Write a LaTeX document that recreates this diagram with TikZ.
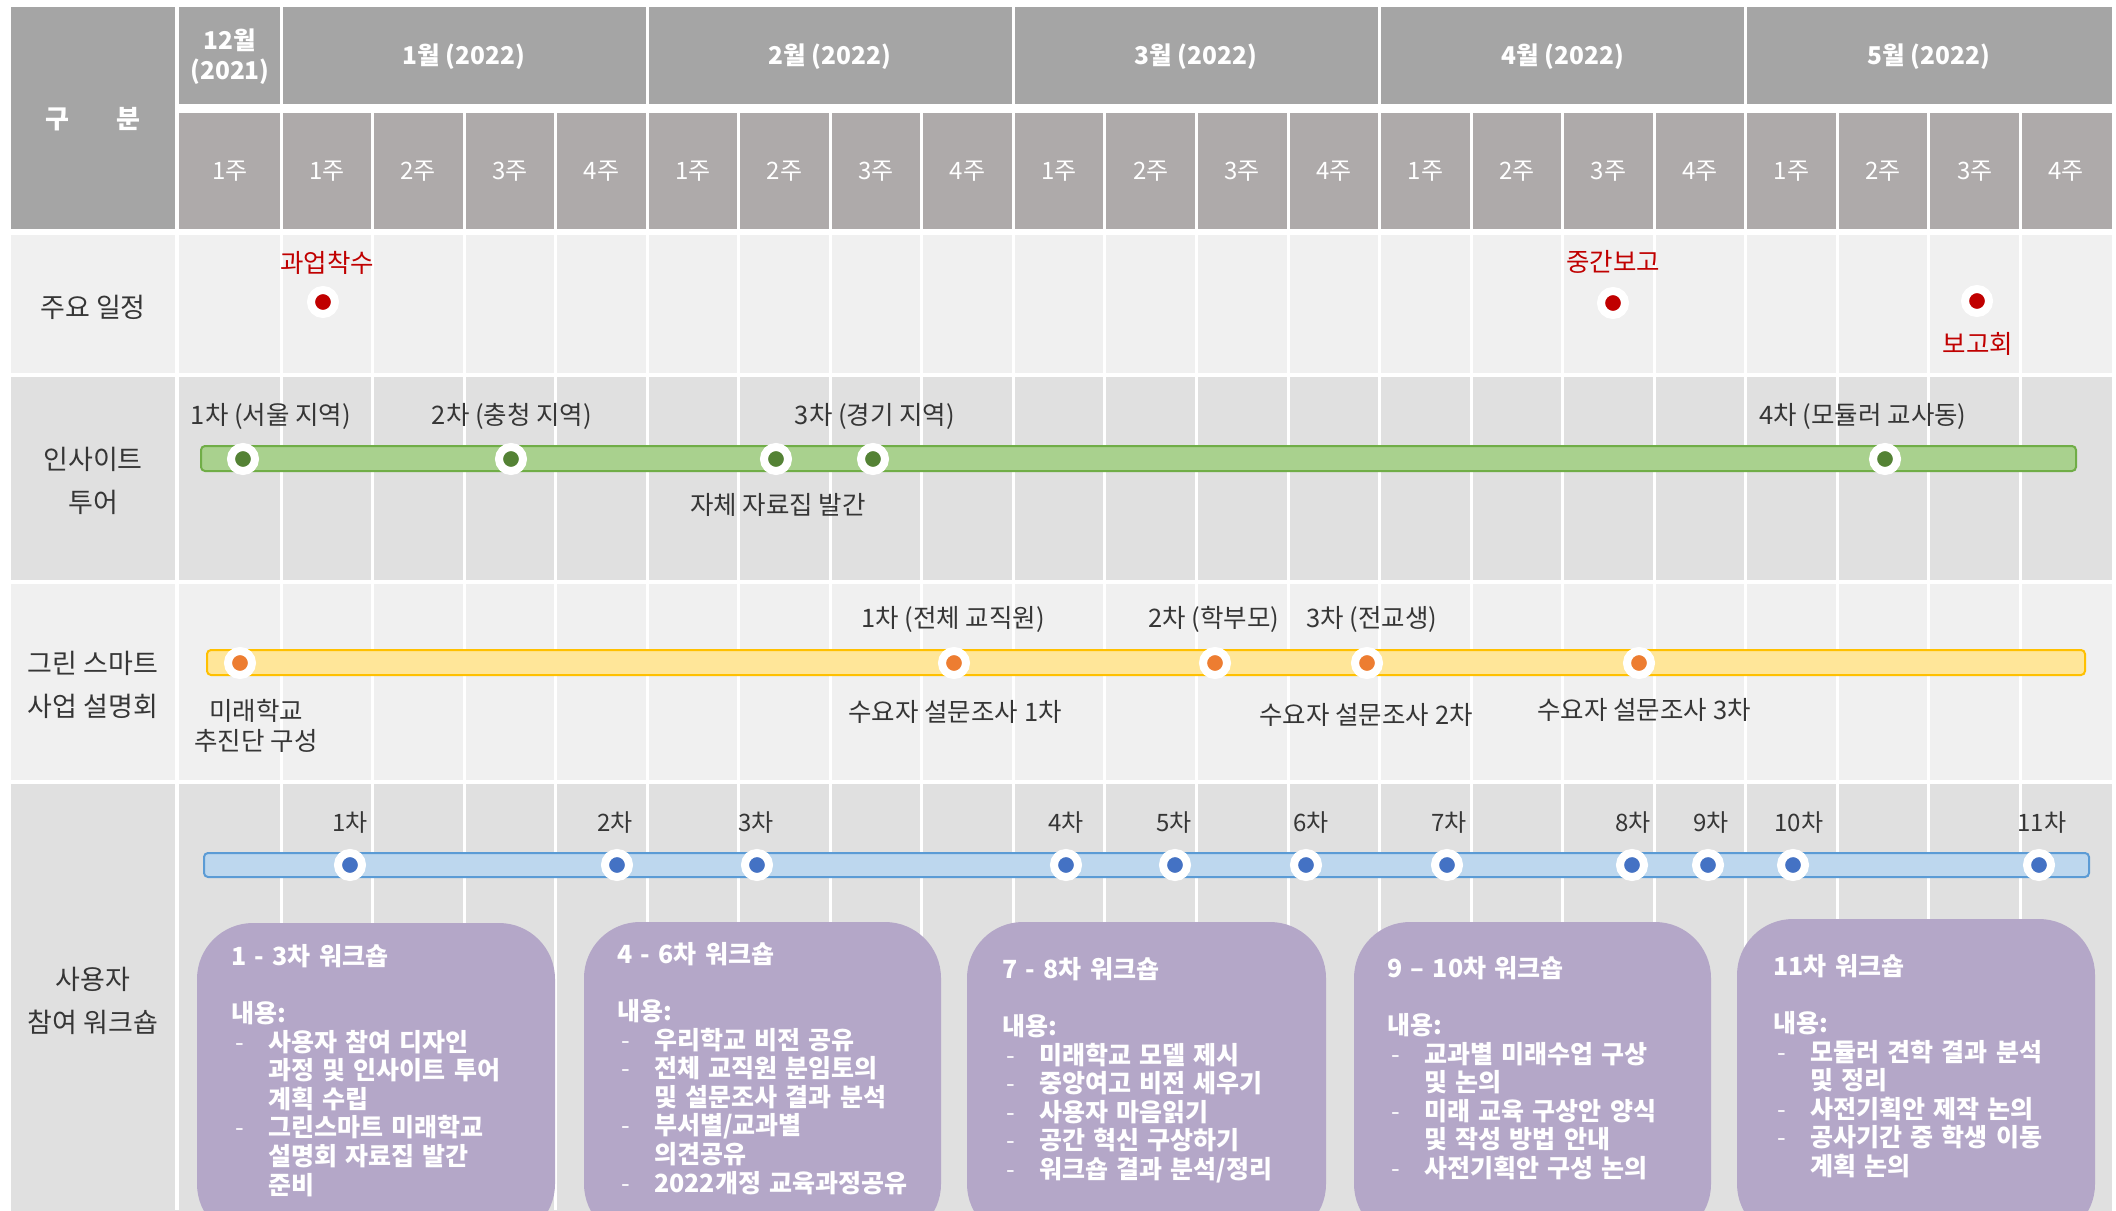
\documentclass[tikz,border=0pt]{standalone}
\usepackage{fontspec}
\setmainfont{Noto Sans CJK KR}
\definecolor{hdr}{HTML}{A5A5A5}
\definecolor{wk}{HTML}{AEAAAA}
\definecolor{rowL}{HTML}{F0F0F0}
\definecolor{rowD}{HTML}{E0E0E0}
\definecolor{txt}{HTML}{363636}
\definecolor{mred}{HTML}{C00000}
\definecolor{gfill}{HTML}{A9D18E}
\definecolor{gline}{HTML}{70AD47}
\definecolor{gdot}{HTML}{548235}
\definecolor{yfill}{HTML}{FFE699}
\definecolor{yline}{HTML}{FFC000}
\definecolor{ydot}{HTML}{ED7D31}
\definecolor{bfill}{HTML}{BDD7EE}
\definecolor{bline}{HTML}{5B9BD5}
\definecolor{bdot}{HTML}{4472C4}
\definecolor{purp}{HTML}{B4A7C8}
\newcommand{\wdash}[1]{\makebox[37pt][l]{\hspace{4pt}\mdseries-}#1}
\newcommand{\wcont}[1]{\hspace*{37pt}#1}
\begin{document}
\begin{tikzpicture}[x=1pt,y=-1pt,
  every node/.style={font=\fontsize{25.5}{29}\selectfont, text=txt, inner sep=0pt},
  hdrtxt/.style={text=white, font=\fontsize{24.5}{30}\selectfont\bfseries, align=center},
  wktxt/.style={text=white, font=\fontsize{24}{26}\selectfont},
  rowtxt/.style={align=center, font=\fontsize{27}{43}\selectfont},
  numtxt/.style={font=\fontsize{24}{28}\selectfont},
  mdot/.style={circle, inner sep=0pt, minimum size=24pt, line width=8pt, draw=white, fill=#1},
  redtxt/.style={text=mred},
  boxtxt/.style={anchor=north west, text=white, font=\fontsize{25}{28.6}\selectfont\bfseries, text width=340pt, align=left},
  wbox/.style={fill=purp, rounded corners=56pt},
  gridline/.style={white, line width=3pt},
  bar/.style={rounded corners=4pt, line width=2pt}
]
\useasboundingbox (0,0) rectangle (2116,1210);
\clip (0,0) rectangle (2116,1210);
\fill[white] (0,0) rectangle (2116,1210);
% header
\fill[hdr] (11,7) rectangle (175,229);
\fill[hdr] (179,7) rectangle (2112,104);
\fill[wk] (179,113) rectangle (2112,229);
% rows
\fill[rowL] (11,235) rectangle (2112,373);
\fill[rowD] (11,377) rectangle (2112,580);
\fill[rowL] (11,584) rectangle (2112,780);
\fill[rowD] (11,784) rectangle (2112,1215);
\draw[white, line width=4pt] (177,0) -- (177,1210);
% grid lines
\foreach \k in {1,2,3,5,6,7,9,10,11,13,14,15,17,18,19}
  \draw[gridline] ({281+91.55*\k},104) -- ({281+91.55*\k},1210);
\foreach \k in {0,4,8,12,16}
  \draw[gridline] ({281+91.55*\k},0) -- ({281+91.55*\k},1210);
% header texts
\node[hdrtxt, font=\fontsize{26}{30}\selectfont\bfseries] (gubun) at (93,119) {구\hspace{47pt}분};
\node[hdrtxt] (mdec) at (230,57) {12월\\(2021)};
\node[hdrtxt] (mjan) at (464,57) {1월 (2022)};
\node[hdrtxt] (mfeb) at (830,57) {2월 (2022)};
\node[hdrtxt] (mmar) at (1196,57) {3월 (2022)};
\node[hdrtxt] (mapr) at (1563,57) {4월 (2022)};
\node[hdrtxt] (mmay) at (1929,57) {5월 (2022)};
\node[wktxt] (wkdec) at (230,171) {1주};
\foreach \i in {0,...,19}{
  \pgfmathtruncatemacro{\wnum}{mod(\i,4)+1}
  \node[wktxt] (wk\i) at ({281+91.55*\i+45.78},171) {\wnum{}주};
}
% row labels
\node[rowtxt] (r1) at (93,307) {주요 일정};
\node[rowtxt] (r2) at (93,481) {인사이트\\투어};
\node[rowtxt] (r3) at (93,685) {그린 스마트\\사업 설명회};
\node[rowtxt] (r4) at (93,1001) {사용자\\참여 워크숍};
% milestones
\node[mdot=mred] (m1) at (323,302) {};
\node[mdot=mred] (m2) at (1613,303) {};
\node[mdot=mred] (m3) at (1977,301) {};
\node[redtxt] (m1t) at (327,263) {과업착수};
\node[redtxt] (m2t) at (1613,262) {중간보고};
\node[redtxt] (m3t) at (1978,344) {보고회};
% green bar
\draw[bar, fill=gfill, draw=gline] (201,446) rectangle (2076,471);
\node[mdot=gdot] (g1) at (243,459) {};
\node[mdot=gdot] (g2) at (511,459) {};
\node[mdot=gdot] (g3) at (776,459) {};
\node[mdot=gdot] (g4) at (873,459) {};
\node[mdot=gdot] (g5) at (1885,459) {};
\node (g1t) at (271,416) {1차 (서울 지역)};
\node (g2t) at (512,416) {2차 (충청 지역)};
\node (g4t) at (875,416) {3차 (경기 지역)};
\node (g3t) at (778,505) {자체 자료집 발간};
\node (g5t) at (1863,416) {4차 (모듈러 교사동)};
% yellow bar
\draw[bar, fill=yfill, draw=yline] (207,650) rectangle (2085,675);
\node[mdot=ydot] (y1) at (240,663) {};
\node[mdot=ydot] (y2) at (954,663) {};
\node[mdot=ydot] (y3) at (1215,663) {};
\node[mdot=ydot] (y4) at (1367,663) {};
\node[mdot=ydot] (y5) at (1639,663) {};
\node (y2t) at (953,619) {1차 (전체 교직원)};
\node (y3t) at (1214,619) {2차 (학부모)};
\node (y4t) at (1372,619) {3차 (전교생)};
\node[align=center, font=\fontsize{25.5}{29.5}\selectfont] (y1t) at (256,726) {미래학교\\추진단 구성};
\node (y2b) at (955,712) {수요자 설문조사 1차};
\node (y4b) at (1366,715) {수요자 설문조사 2차};
\node (y5b) at (1644,710) {수요자 설문조사 3차};
% blue bar
\draw[bar, fill=bfill, draw=bline] (204,853) rectangle (2089,877);
\foreach \x [count=\n] in {350,617,757,1066,1175,1306,1447,1632,1708,1793,2039}
  \node[mdot=bdot] (b\n) at (\x,865) {};
\foreach \x [count=\n] in {350,615,756,1066,1174,1311,1449,1633,1711,1799,2042}
  \node[numtxt] (bt\n) at (\x,822) {\n{}차};
% workshop boxes
\fill[wbox] (197,923) rectangle (555,1240);
\fill[wbox] (584,922) rectangle (941,1240);
\fill[wbox] (967,922) rectangle (1326,1240);
\fill[wbox] (1354,922) rectangle (1711,1240);
\fill[wbox] (1737,919) rectangle (2095,1240);
\node[boxtxt] (w1) at (231,944) {1 - 3차 워크숍\\[28.6pt]내용:\\
  \wdash{사용자 참여 디자인}\\ \wcont{과정 및 인사이트 투어}\\ \wcont{계획 수립}\\
  \wdash{그린스마트 미래학교}\\ \wcont{설명회 자료집 발간}\\ \wcont{준비}};
\node[boxtxt] (w2) at (617,942) {4 - 6차 워크숍\\[28.6pt]내용:\\
  \wdash{우리학교 비전 공유}\\ \wdash{전체 교직원 분임토의}\\ \wcont{및 설문조사 결과 분석}\\
  \wdash{부서별/교과별}\\ \wcont{의견공유}\\ \wdash{2022개정 교육과정공유}};
\node[boxtxt] (w3) at (1002,957) {7 - 8차 워크숍\\[28.6pt]내용:\\
  \wdash{미래학교 모델 제시}\\ \wdash{중앙여고 비전 세우기}\\ \wdash{사용자 마음읽기}\\
  \wdash{공간 혁신 구상하기}\\ \wdash{워크숍 결과 분석/정리}};
\node[boxtxt] (w4) at (1387,956) {9 – 10차 워크숍\\[28.6pt]내용:\\
  \wdash{교과별 미래수업 구상}\\ \wcont{및 논의}\\ \wdash{미래 교육 구상안 양식}\\
  \wcont{및 작성 방법 안내}\\ \wdash{사전기획안 구성 논의}};
\node[boxtxt] (w5) at (1773,954) {11차 워크숍\\[28.6pt]내용:\\
  \wdash{모듈러 견학 결과 분석}\\ \wcont{및 정리}\\ \wdash{사전기획안 제작 논의}\\
  \wdash{공사기간 중 학생 이동}\\ \wcont{계획 논의}};
\end{tikzpicture}
\end{document}
